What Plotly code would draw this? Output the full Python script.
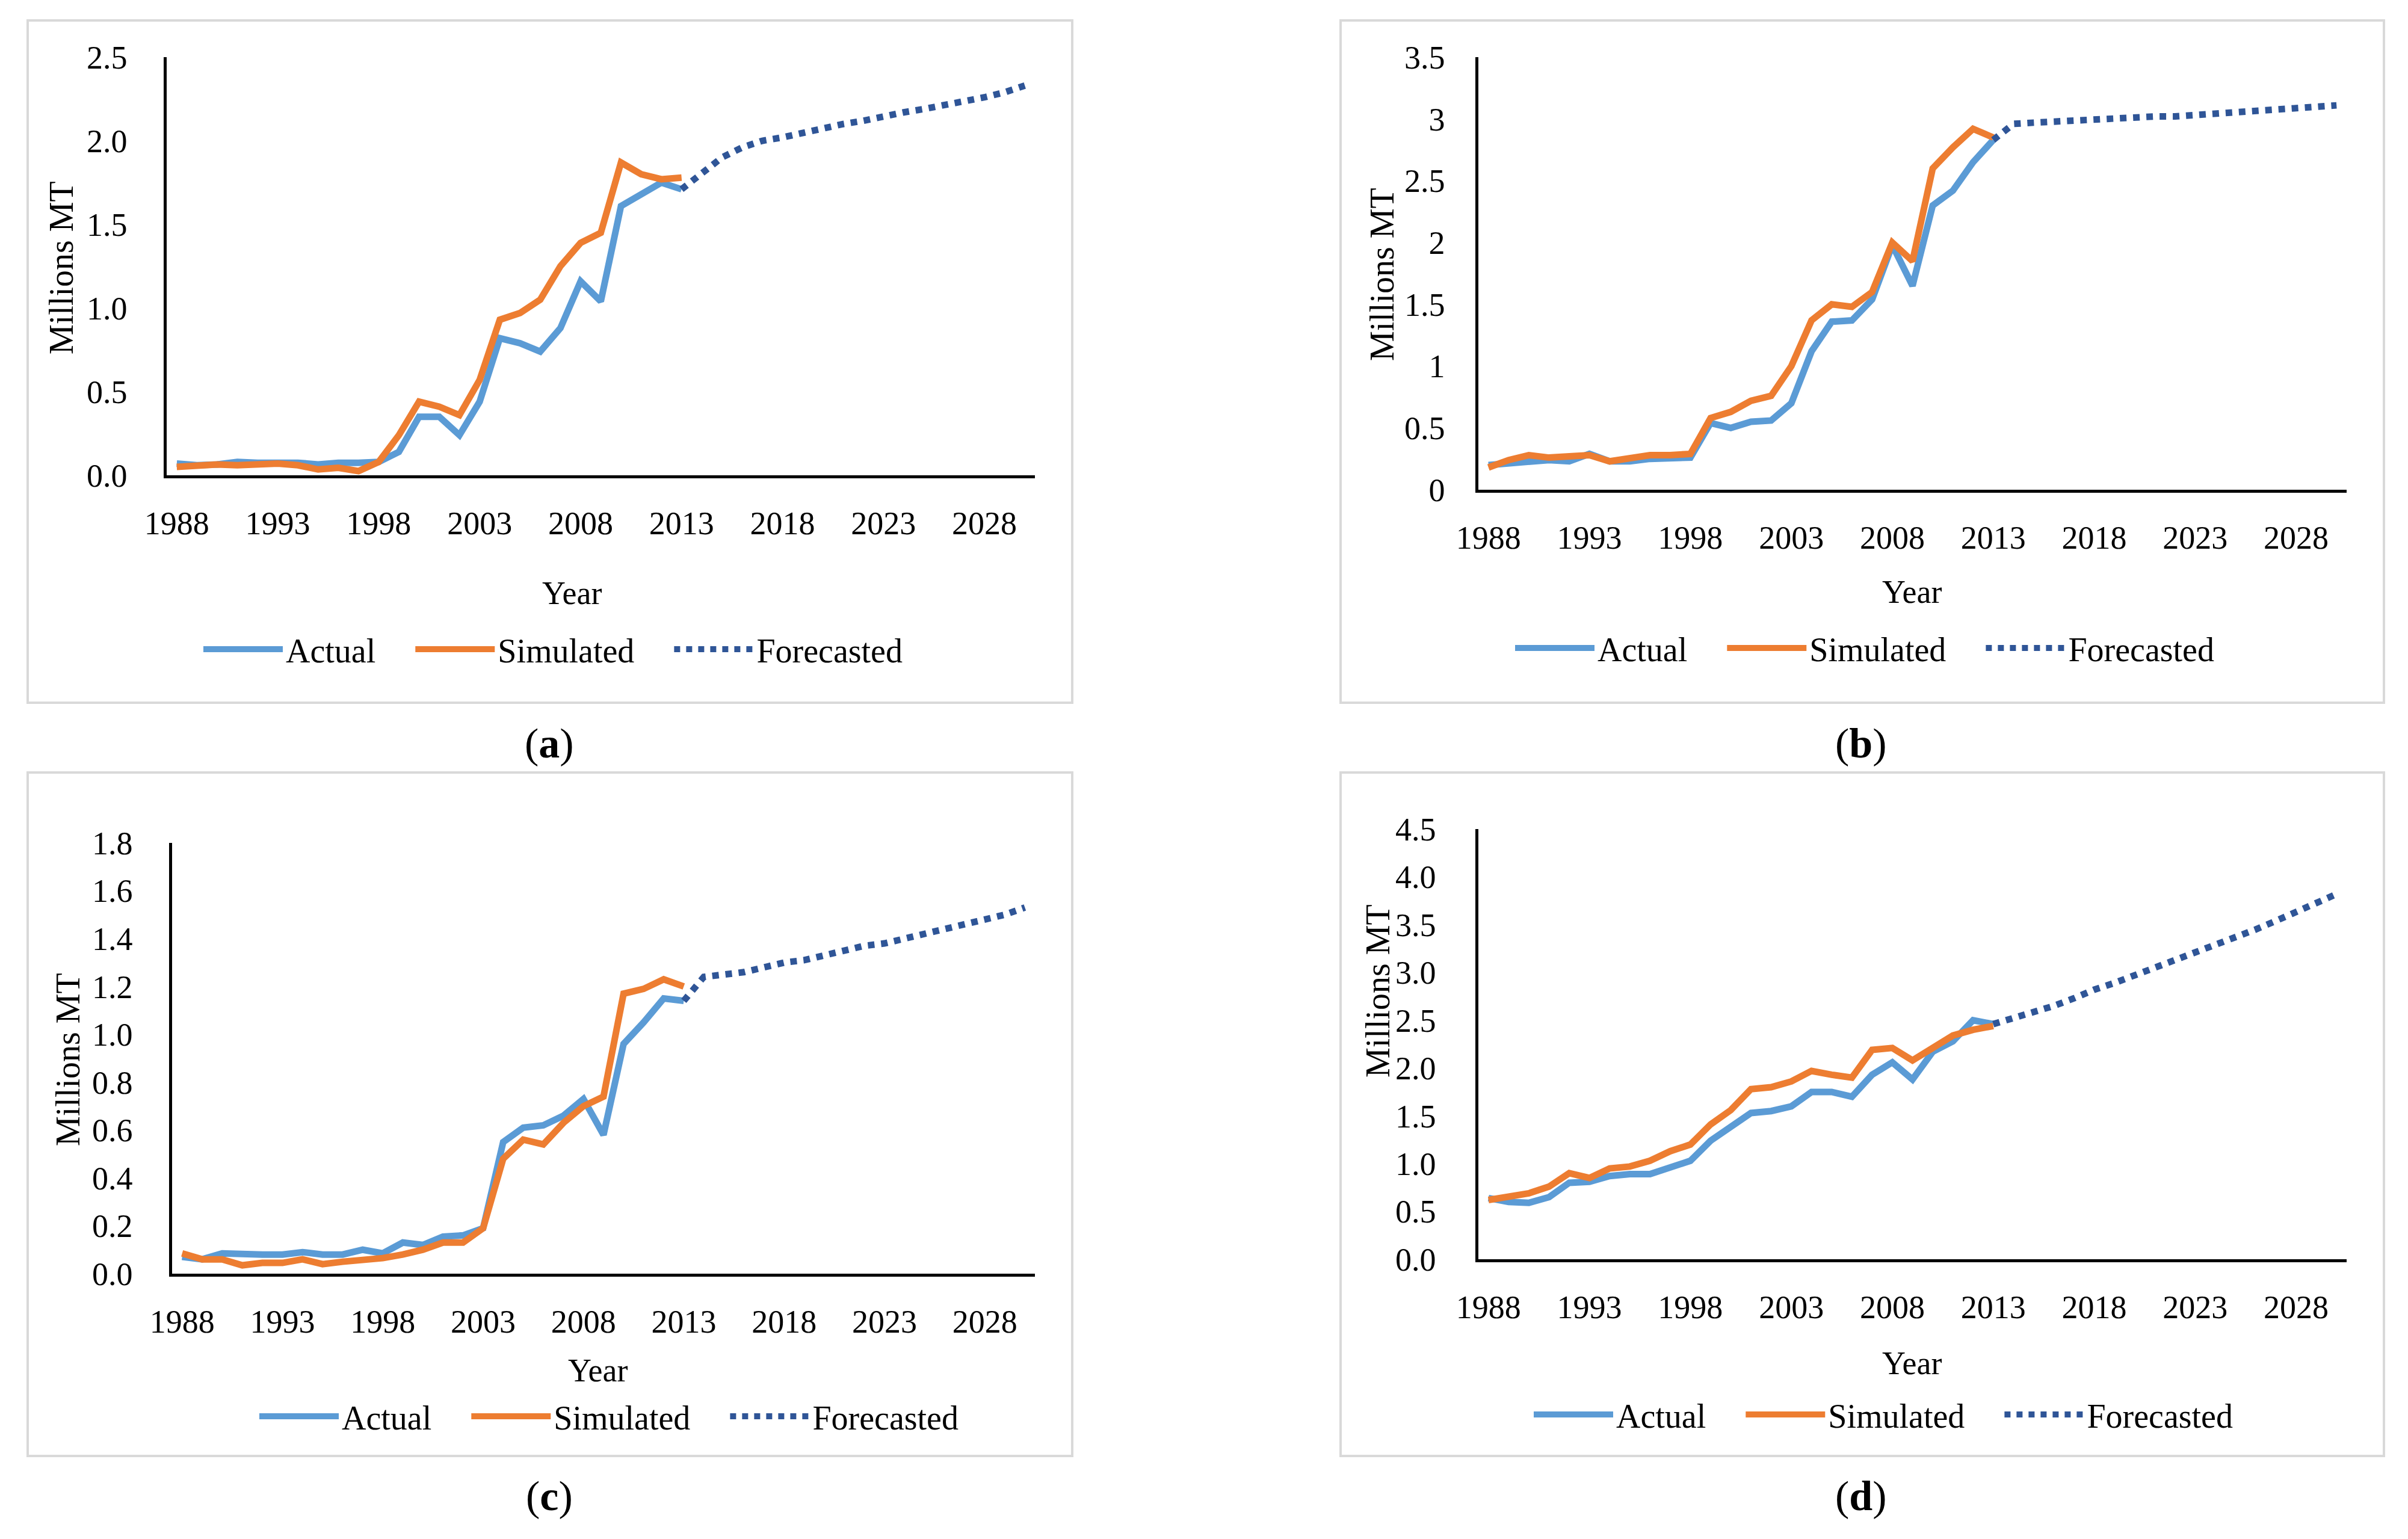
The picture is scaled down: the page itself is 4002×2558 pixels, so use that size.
import plotly.graph_objects as go

W, H = 4002, 2558
FONT = "Liberation Serif"
BODY = 8  # default page margin of the html body

# ---------------- data ----------------
hist_years = list(range(1988, 2014))
fc_years = list(range(2013, 2031))

a_actual = [0.07, 0.06, 0.065, 0.08, 0.075, 0.075, 0.075, 0.065, 0.075, 0.075, 0.08, 0.14, 0.35, 0.35,
            0.24, 0.44, 0.82, 0.79, 0.74, 0.88, 1.16, 1.04, 1.61, 1.68, 1.75, 1.71]
a_simulated = [0.05, 0.06, 0.065, 0.06, 0.065, 0.07, 0.06, 0.035, 0.045, 0.025, 0.08, 0.24, 0.44, 0.41,
               0.36, 0.57, 0.93, 0.97, 1.05, 1.25, 1.39, 1.45, 1.87, 1.80, 1.77, 1.78]
a_forecast = [1.71, 1.80, 1.90, 1.96, 2.00, 2.02, 2.05, 2.07, 2.10, 2.12, 2.15, 2.17, 2.19, 2.21, 2.24,
              2.26, 2.29, 2.33]

b_actual = [0.20, 0.21, 0.22, 0.24, 0.23, 0.29, 0.23, 0.23, 0.25, 0.25, 0.26, 0.54, 0.50, 0.55, 0.56,
            0.70, 1.12, 1.36, 1.37, 1.54, 1.98, 1.65, 2.30, 2.42, 2.65, 2.83]
b_simulated = [0.18, 0.24, 0.28, 0.26, 0.27, 0.28, 0.23, 0.25, 0.28, 0.28, 0.29, 0.58, 0.63, 0.72, 0.76,
               1.00, 1.37, 1.50, 1.48, 1.60, 2.00, 1.85, 2.60, 2.77, 2.92, 2.85]
b_forecast = [2.83, 2.96, 2.97, 2.98, 2.99, 3.00, 3.00, 3.01, 3.02, 3.02, 3.03, 3.04, 3.05, 3.06, 3.07,
              3.08, 3.09, 3.11]

c_actual = [0.07, 0.06, 0.085, 0.08, 0.08, 0.08, 0.09, 0.08, 0.08, 0.10, 0.085, 0.13, 0.12, 0.155, 0.16,
            0.19, 0.55, 0.61, 0.62, 0.66, 0.73, 0.58, 0.96, 1.05, 1.15, 1.14]
c_simulated = [0.085, 0.06, 0.06, 0.035, 0.045, 0.045, 0.06, 0.04, 0.05, 0.055, 0.065, 0.08, 0.10, 0.13,
               0.13, 0.19, 0.48, 0.56, 0.54, 0.63, 0.70, 0.74, 1.17, 1.19, 1.23, 1.20]
c_forecast = [1.14, 1.24, 1.25, 1.26, 1.28, 1.30, 1.31, 1.33, 1.35, 1.37, 1.38, 1.40, 1.42, 1.44, 1.46,
              1.48, 1.50, 1.53]

d_actual = [0.64, 0.60, 0.59, 0.65, 0.80, 0.81, 0.87, 0.89, 0.89, 0.96, 1.03, 1.24, 1.38, 1.53, 1.55,
            1.60, 1.75, 1.75, 1.70, 1.93, 2.06, 1.88, 2.17, 2.28, 2.50, 2.46]
d_simulated = [0.62, 0.66, 0.69, 0.76, 0.90, 0.85, 0.95, 0.97, 1.03, 1.13, 1.20, 1.41, 1.56, 1.78, 1.80,
               1.86, 1.97, 1.93, 1.90, 2.19, 2.21, 2.08, 2.22, 2.34, 2.40, 2.44]
d_forecast = [2.46, 2.52, 2.58, 2.65, 2.73, 2.82, 2.89, 2.97, 3.05, 3.12, 3.20, 3.28, 3.37, 3.45, 3.54,
              3.63, 3.72, 3.82]

x_ticks = [1988, 1993, 1998, 2003, 2008, 2013, 2018, 2023, 2028]
panel_labels = ["a", "b", "c", "d"]
y_ranges = [2.5, 3.5, 1.8, 4.5]
y_dticks = [0.5, 0.5, 0.2, 0.5]
y_formats = [".1f", "", ".1f", ".1f"]
legend_names = ["Actual" + "\u00a0" * 4, "Simulated" + "\u00a0" * 4, "Forecasted"]

# ---------------- layout geometry (pixels in the page) ----------------
plot_boxes = [  # left, right, top, bottom
    (277, 1720, 95, 790),
    (2457, 3900, 95, 814),
    (286, 1720, 1401, 2117),
    (2457, 3900, 1378, 2093),
]
panel_boxes = [(46, 1782, 34, 1168), (2228, 3962, 34, 1168), (46, 1782, 1284, 2420), (2228, 3962, 1284, 2420)]
ytitle_pos = [(102, 445), (2297, 456), (113, 1761), (2290, 1647)]
xtitle_pos = [(951, 986), (3178, 984), (994, 2278), (3178, 2266)]
legend_pos = [(341, 1079), (2521, 1077), (434, 2354), (2552, 2351)]
label_pos = [(913, 1236), (3093, 1236), (913, 2486), (3093, 2486)]
ystandoff = [50, 40, 50, 55]

BLUE = "#5B9BD5"
ORANGE = "#ED7D31"
DARK = "#2F5597"


def px(x):
    return (x - BODY) / W


def py(y):
    return 1 - (y - BODY) / H


fig = go.Figure()
series = [(a_actual, a_simulated, a_forecast), (b_actual, b_simulated, b_forecast),
          (c_actual, c_simulated, c_forecast), (d_actual, d_simulated, d_forecast)]

annotations = []
shapes = []
for i, (act, sim, fc) in enumerate(series):
    n = "" if i == 0 else str(i + 1)
    leg = "legend" + n
    fig.add_trace(go.Scatter(x=hist_years, y=act, mode="lines", name=legend_names[0],
                             line=dict(color=BLUE, width=11), xaxis="x" + n, yaxis="y" + n, legend=leg,
                             hoverinfo="skip"))
    fig.add_trace(go.Scatter(x=hist_years, y=sim, mode="lines", name=legend_names[1],
                             line=dict(color=ORANGE, width=11), xaxis="x" + n, yaxis="y" + n, legend=leg,
                             hoverinfo="skip"))
    fig.add_trace(go.Scatter(x=fc_years, y=fc, mode="lines", name=legend_names[2],
                             line=dict(color=DARK, width=11, dash="dot"), xaxis="x" + n, yaxis="y" + n,
                             legend=leg, hoverinfo="skip"))
    l, r, t, b = plot_boxes[i]
    xa = dict(domain=[px(l), px(r)], range=[1987.5, 2030.5], tickvals=x_ticks, showgrid=False,
              zeroline=False, showline=True, linecolor="black", linewidth=4.5, ticks="",
              tickfont=dict(family=FONT, size=54, color="black"), ticklabelstandoff=28,
              anchor="y" + n, fixedrange=True, automargin=False)
    ya = dict(domain=[py(b), py(t)], range=[0, y_ranges[i]], dtick=y_dticks[i], tick0=0,
              tickformat=y_formats[i], showgrid=False, zeroline=False, showline=True, linecolor="black",
              linewidth=4.5, ticks="", tickfont=dict(family=FONT, size=54, color="black"),
              ticklabelstandoff=ystandoff[i], anchor="x" + n, fixedrange=True, automargin=False)
    fig.update_layout(**{"xaxis" + n: xa, "yaxis" + n: ya})

    lx, ly = legend_pos[i]
    fig.update_layout(**{leg: dict(orientation="h", x=px(lx - 8), y=py(ly), xanchor="left",
                                   yanchor="middle", font=dict(family=FONT, size=56, color="black"),
                                   itemwidth=132, bgcolor="rgba(0,0,0,0)", borderwidth=0,
                                   traceorder="normal")})

    tx, ty = ytitle_pos[i]
    annotations.append(dict(text="Millions MT", x=px(tx), y=py(ty), xref="paper", yref="paper",
                            showarrow=False, textangle=-90, xanchor="center", yanchor="middle",
                            font=dict(family=FONT, size=56, color="black")))
    tx, ty = xtitle_pos[i]
    annotations.append(dict(text="Year", x=px(tx), y=py(ty), xref="paper", yref="paper",
                            showarrow=False, xanchor="center", yanchor="middle",
                            font=dict(family=FONT, size=54, color="black")))
    tx, ty = label_pos[i]
    annotations.append(dict(text="(<b>" + panel_labels[i] + "</b>)", x=px(tx), y=py(ty), xref="paper",
                            yref="paper", showarrow=False, xanchor="center", yanchor="middle",
                            font=dict(family=FONT, size=70, color="black")))
    bl, br, bt, bb = panel_boxes[i]
    shapes.append(dict(type="rect", xref="paper", yref="paper", x0=px(bl), x1=px(br), y0=py(bb), y1=py(bt),
                       line=dict(color="#D9D9D9", width=4), fillcolor="rgba(0,0,0,0)", layer="below"))

fig.update_layout(width=W, height=H, margin=dict(l=0, r=0, t=0, b=0, pad=0, autoexpand=False),
                  paper_bgcolor="white", plot_bgcolor="white", annotations=annotations, shapes=shapes,
                  font=dict(family=FONT, color="black"), template="none")

fig.write_html("out.html")
